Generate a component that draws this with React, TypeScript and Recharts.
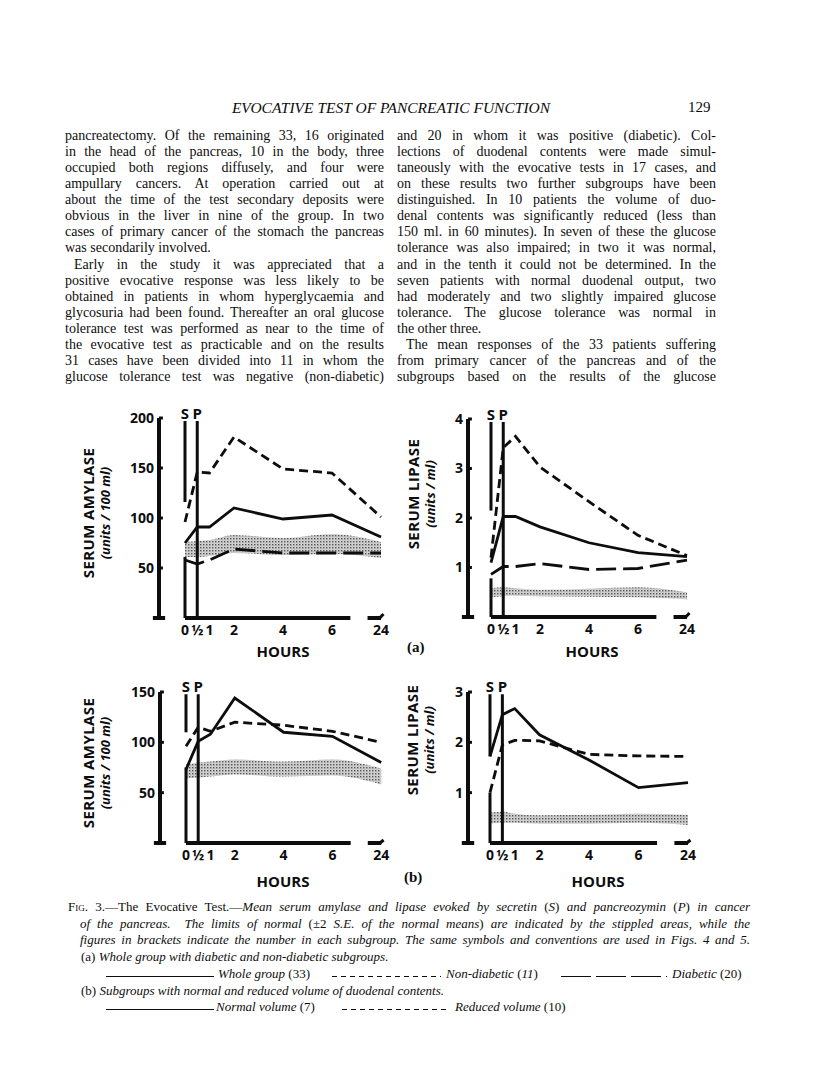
import React from "react";
import { Area, ComposedChart, Line, ReferenceLine, XAxis, YAxis } from "recharts";

// time points (hours); 24 h sits after a break in the axis
const HOURS = [0, 0.5, 1, 2, 4, 6, 24];
const HOUR_TICKS = ["0", "½", "1", "2", "4", "6", "24"];

// Fig 3a: whole group, non-diabetic, diabetic
const AMY_A_WHOLE = [75, 91, 91, 110, 99, 103, 81];
const AMY_A_NONDIAB = [96, 146, 145, 181, 149, 145, 101];
const AMY_A_DIAB = [58, 54, 58, 69, 65, 65, 65];
const AMY_A_NORMAL_LO = [61, 61, 62, 65, 63, 64, 60];
const AMY_A_NORMAL_HI = [76, 77, 78, 83, 80, 84, 76];

const LIP_A_WHOLE = [1.1, 2.03, 2.03, 1.82, 1.5, 1.3, 1.22];
const LIP_A_NONDIAB = [1.2, 3.42, 3.65, 3.03, 2.33, 1.65, 1.24];
const LIP_A_DIAB = [0.86, 1.02, 1.02, 1.08, 0.96, 0.98, 1.15];
const LIP_A_NORMAL_LO = [0.4, 0.42, 0.43, 0.42, 0.41, 0.4, 0.36];
const LIP_A_NORMAL_HI = [0.58, 0.6, 0.58, 0.55, 0.57, 0.6, 0.5];

// Fig 3b: normal and reduced duodenal volume
const AMY_B_NORMAL = [73, 101, 108, 144, 110, 106, 80];
const AMY_B_REDUCED = [96, 115, 111, 120, 117, 111, 100];
const AMY_B_NORMAL_LO = [64, 65, 66, 68, 66, 67, 58];
const AMY_B_NORMAL_HI = [78, 80, 81, 83, 81, 83, 74];

const LIP_B_NORMAL = [1.72, 2.55, 2.67, 2.15, 1.65, 1.1, 1.2];
const LIP_B_REDUCED = [1.0, 1.95, 2.04, 2.03, 1.76, 1.73, 1.72];
const LIP_B_NORMAL_LO = [0.38, 0.4, 0.4, 0.38, 0.38, 0.4, 0.36];
const LIP_B_NORMAL_HI = [0.6, 0.62, 0.58, 0.55, 0.56, 0.58, 0.56];

const LEFT_COL = [
  "pancreatectomy.  Of the remaining 33, 16 originated",
  "in the head of the pancreas, 10 in the body, three",
  "occupied both regions diffusely, and four were",
  "ampullary cancers.  At operation carried out at",
  "about the time of the test secondary deposits were",
  "obvious in the liver in nine of the group.  In two",
  "cases of primary cancer of the stomach the pancreas",
  "was secondarily involved.",
  "Early in the study it was appreciated that a",
  "positive evocative response was less likely to be",
  "obtained in patients in whom hyperglycaemia and",
  "glycosuria had been found. Thereafter an oral glucose",
  "tolerance test was performed as near to the time of",
  "the evocative test as practicable and on the results",
  "31 cases have been divided into 11 in whom the",
  "glucose tolerance test was negative (non-diabetic)",
];
const RIGHT_COL = [
  "and 20 in whom it was positive (diabetic).  Col-",
  "lections of duodenal contents were made simul-",
  "taneously with the evocative tests in 17 cases, and",
  "on these results two further subgroups have been",
  "distinguished.  In 10 patients the volume of duo-",
  "denal contents was significantly reduced (less than",
  "150 ml. in 60 minutes).  In seven of these the glucose",
  "tolerance was also impaired;  in two it was normal,",
  "and in the tenth it could not be determined.  In the",
  "seven patients with normal duodenal output, two",
  "had moderately and two slightly impaired glucose",
  "tolerance.  The glucose tolerance was normal in",
  "the other three.",
  "The mean responses of the 33 patients suffering",
  "from primary cancer of the pancreas and of the",
  "subgroups based on the results of the glucose",
];
const LEFT_ENDS = [7];
const LEFT_INDENTS = [8];
const RIGHT_ENDS = [12];
const RIGHT_INDENTS = [13];

const SERIF = "'Liberation Serif', 'Times New Roman', serif";
const SANS = "'Open Sans', 'Liberation Sans', sans-serif";
const INK = "#0d0d0d";

const SOLID = undefined;
const SHORT_DASH = "9 5";
const LONG_DASH = "20 7";

// put 24 h right after the axis break
const hourPos = (h: number) => (h <= 6 ? h : 8);
const TICK_POS = HOURS.map(hourPos);

type Series = { key: string; values: number[]; dash?: string };

type PanelProps = {
  id: string;
  axisX: number;
  zeroX: number;
  zeroY: number;
  topY: number;
  pxPerHour: number;
  yMax: number;
  yTicks: number[];
  series: Series[];
  bandLo: number[];
  bandHi: number[];
  sUpper: number;
  sLower: number;
};

function Panel(p: PanelProps) {
  const xMin = -(p.zeroX - p.axisX) / p.pxPerHour;
  const xMax = 8.45;
  const top = 30;
  const right = 6;
  const xAxisH = 28;
  const yAxisW = 46;
  const plotW = (xMax - xMin) * p.pxPerHour;
  const plotH = p.zeroY - p.topY;
  const width = yAxisW + plotW + right;
  const height = top + plotH + xAxisH;

  const rows = HOURS.map((h, i) => {
    const row: Record<string, any> = { x: hourPos(h), band: [p.bandLo[i], p.bandHi[i]] };
    p.series.forEach((s) => {
      row[s.key] = s.values[i];
    });
    return row;
  });

  const seg = (x1: number, y1: number, x2: number, y2: number) => [
    { x: x1, y: y1 },
    { x: x2, y: y2 },
  ];
  const letter = (value: string) => ({
    value,
    position: "top" as const,
    offset: 2,
    fill: INK,
    fontSize: 15,
    fontWeight: 700,
    fontFamily: SANS,
  });
  const tickStyle = { fill: INK, fontSize: 14, fontWeight: 700, fontFamily: SANS };

  return (
    <div style={{ position: "absolute", left: p.axisX - yAxisW, top: p.topY - top }}>
      <ComposedChart width={width} height={height} data={rows} margin={{ top, right, bottom: 0, left: 0 }}>
        <defs>
          <pattern id={p.id} width="3" height="3" patternUnits="userSpaceOnUse">
            <rect width="3" height="3" fill="#d2d2d2" />
            <rect x="0" y="0" width="1.4" height="1.4" fill="#555" />
            <rect x="1.5" y="1.5" width="0.8" height="0.8" fill="#999" />
          </pattern>
        </defs>
        <XAxis
          type="number"
          dataKey="x"
          domain={[xMin, xMax]}
          allowDataOverflow
          ticks={TICK_POS}
          interval={0}
          tickFormatter={(v: number) => HOUR_TICKS[TICK_POS.indexOf(v)] ?? ""}
          axisLine={false}
          tickLine={false}
          tickSize={5}
          height={xAxisH}
          tick={tickStyle}
        />
        <YAxis
          type="number"
          domain={[0, p.yMax]}
          ticks={p.yTicks}
          interval={0}
          axisLine={{ stroke: INK, strokeWidth: 4 }}
          tickLine={false}
          tickSize={2}
          tickMargin={3}
          width={yAxisW}
          tick={tickStyle}
        />
        <Area
          dataKey="band"
          type="monotone"
          fill={`url(#${p.id})`}
          fillOpacity={1}
          stroke="none"
          isAnimationActive={false}
        />
        {p.series.map((s) => (
          <Line
            key={s.key}
            dataKey={s.key}
            type="linear"
            stroke={INK}
            strokeWidth={2.8}
            strokeDasharray={s.dash}
            dot={false}
            isAnimationActive={false}
          />
        ))}
        <ReferenceLine segment={seg(0, p.yMax * 0.985, 0, p.sUpper)} stroke={INK} strokeWidth={3} label={letter("S")} />
        <ReferenceLine segment={seg(0, 0, 0, p.sLower)} stroke={INK} strokeWidth={3} />
        <ReferenceLine segment={seg(0.5, 0, 0.5, p.yMax * 0.985)} stroke={INK} strokeWidth={3} label={letter("P")} />
        <ReferenceLine segment={seg(0, 0, 6.75, 0)} stroke={INK} strokeWidth={4} />
        <ReferenceLine segment={seg(7.45, 0, 8, 0)} stroke={INK} strokeWidth={4} />
        <ReferenceLine segment={seg(7.95, 0, 8.1, p.yMax * 0.02)} stroke={INK} strokeWidth={3} />
        <ReferenceLine segment={seg(xMin - 0.25, 0, xMin + 0.25, 0)} stroke={INK} strokeWidth={4} ifOverflow="visible" />
        {p.yTicks.map((t) => (
          <ReferenceLine key={t} segment={seg(xMin, t, xMin + 0.16, t)} stroke={INK} strokeWidth={3} />
        ))}
      </ComposedChart>
    </div>
  );
}

function AxisTitle({ x, y, title, unit }: { x: number; y: number; title: string; unit: string }) {
  const rot = (cx: number, style: React.CSSProperties, text: string) => (
    <div
      style={{
        position: "absolute",
        left: cx,
        top: y,
        transform: "translate(-50%, -50%) rotate(-90deg)",
        whiteSpace: "nowrap",
        fontFamily: SANS,
        fontWeight: 700,
        color: INK,
        ...style,
      }}
    >
      {text}
    </div>
  );
  return (
    <>
      {rot(x, { fontSize: 15, letterSpacing: 0.4 }, title)}
      {rot(x + 17, { fontSize: 13, fontStyle: "italic" }, unit)}
    </>
  );
}

function Abs({ x, y, children, style }: { x: number; y: number; children: React.ReactNode; style?: React.CSSProperties }) {
  return (
    <div style={{ position: "absolute", left: x, top: y, whiteSpace: "nowrap", color: INK, ...style }}>{children}</div>
  );
}

function Column({ x, lines, ends, indents }: { x: number; lines: string[]; ends: number[]; indents: number[] }) {
  return (
    <div style={{ position: "absolute", left: x, top: 128, width: 319, fontFamily: SERIF, fontSize: 14, color: INK }}>
      {lines.map((l, i) => (
        <div
          key={i}
          style={{
            height: 16.07,
            lineHeight: "16px",
            whiteSpace: "nowrap",
            textAlign: "justify",
            textAlignLast: ends.includes(i) ? "left" : "justify",
            paddingLeft: indents.includes(i) ? 9 : 0,
          }}
        >
          {l}
        </div>
      ))}
    </div>
  );
}

function Key({ x, y, w, dash }: { x: number; y: number; w: number; dash?: string }) {
  return (
    <svg style={{ position: "absolute", left: x, top: y }} width={w} height={3}>
      <line x1={0} y1={1.5} x2={w} y2={1.5} stroke={INK} strokeWidth={1} strokeDasharray={dash} />
    </svg>
  );
}

const CAP_Y = 899;
const CAP_STEP = 16.7;

function CapLine({ i, x, w, justify, children }: { i: number; x: number; w?: number; justify?: boolean; children: React.ReactNode }) {
  return (
    <div
      style={{
        position: "absolute",
        left: x,
        top: CAP_Y + i * CAP_STEP,
        width: w,
        lineHeight: "16px",
        whiteSpace: "nowrap",
        fontFamily: SERIF,
        fontSize: 13,
        color: INK,
        textAlign: "justify",
        textAlignLast: justify ? "justify" : "left",
      }}
    >
      {children}
    </div>
  );
}

export default function App() {
  return (
    <div style={{ position: "absolute", left: 0, top: 0, width: 816, height: 1075, background: "#fff" }}>
      <Abs x={191} y={99} style={{ width: 400, textAlign: "center", fontFamily: SERIF, fontStyle: "italic", fontSize: 15.5 }}>
        EVOCATIVE TEST OF PANCREATIC FUNCTION
      </Abs>
      <Abs x={688} y={99} style={{ fontFamily: SERIF, fontSize: 15 }}>
        129
      </Abs>

      <Column x={65} lines={LEFT_COL} ends={LEFT_ENDS} indents={LEFT_INDENTS} />
      <Column x={397} lines={RIGHT_COL} ends={RIGHT_ENDS} indents={RIGHT_INDENTS} />

      <Panel
        id="stipple-a1"
        axisX={159}
        zeroX={185}
        zeroY={618}
        topY={418}
        pxPerHour={24.5}
        yMax={200}
        yTicks={[50, 100, 150, 200]}
        series={[
          { key: "whole", values: AMY_A_WHOLE, dash: SOLID },
          { key: "nondiab", values: AMY_A_NONDIAB, dash: SHORT_DASH },
          { key: "diab", values: AMY_A_DIAB, dash: LONG_DASH },
        ]}
        bandLo={AMY_A_NORMAL_LO}
        bandHi={AMY_A_NORMAL_HI}
        sUpper={116}
        sLower={61}
      />
      <Panel
        id="stipple-a2"
        axisX={468}
        zeroX={491}
        zeroY={617}
        topY={419}
        pxPerHour={24.5}
        yMax={4}
        yTicks={[1, 2, 3, 4]}
        series={[
          { key: "whole", values: LIP_A_WHOLE, dash: SOLID },
          { key: "nondiab", values: LIP_A_NONDIAB, dash: SHORT_DASH },
          { key: "diab", values: LIP_A_DIAB, dash: LONG_DASH },
        ]}
        bandLo={LIP_A_NORMAL_LO}
        bandHi={LIP_A_NORMAL_HI}
        sUpper={2.15}
        sLower={0.78}
      />
      <Panel
        id="stipple-b1"
        axisX={160}
        zeroX={186}
        zeroY={843}
        topY={692}
        pxPerHour={24.4}
        yMax={150}
        yTicks={[50, 100, 150]}
        series={[
          { key: "normal", values: AMY_B_NORMAL, dash: SOLID },
          { key: "reduced", values: AMY_B_REDUCED, dash: SHORT_DASH },
        ]}
        bandLo={AMY_B_NORMAL_LO}
        bandHi={AMY_B_NORMAL_HI}
        sUpper={110}
        sLower={75}
      />
      <Panel
        id="stipple-b2"
        axisX={468}
        zeroX={490}
        zeroY={843}
        topY={692}
        pxPerHour={24.75}
        yMax={3}
        yTicks={[1, 2, 3]}
        series={[
          { key: "normal", values: LIP_B_NORMAL, dash: SOLID },
          { key: "reduced", values: LIP_B_REDUCED, dash: SHORT_DASH },
        ]}
        bandLo={LIP_B_NORMAL_LO}
        bandHi={LIP_B_NORMAL_HI}
        sUpper={1.72}
        sLower={1.0}
      />

      <AxisTitle x={88} y={513} title="SERUM  AMYLASE" unit="(units / 100 ml)" />
      <AxisTitle x={413} y={494} title="SERUM  LIPASE" unit="(units / ml)" />
      <AxisTitle x={88} y={763} title="SERUM  AMYLASE" unit="(units / 100 ml)" />
      <AxisTitle x={412} y={740} title="SERUM  LIPASE" unit="(units / ml)" />

      <Abs x={253} y={641} style={{ width: 60, textAlign: "center", fontFamily: SANS, fontWeight: 700, fontSize: 15 }}>HOURS</Abs>
      <Abs x={562} y={641} style={{ width: 60, textAlign: "center", fontFamily: SANS, fontWeight: 700, fontSize: 15 }}>HOURS</Abs>
      <Abs x={253} y={871} style={{ width: 60, textAlign: "center", fontFamily: SANS, fontWeight: 700, fontSize: 15 }}>HOURS</Abs>
      <Abs x={568} y={871} style={{ width: 60, textAlign: "center", fontFamily: SANS, fontWeight: 700, fontSize: 15 }}>HOURS</Abs>
      <Abs x={407} y={639} style={{ fontFamily: SERIF, fontWeight: 700, fontSize: 15 }}>(a)</Abs>
      <Abs x={404} y={869} style={{ fontFamily: SERIF, fontWeight: 700, fontSize: 15 }}>(b)</Abs>

      <CapLine i={0} x={68} w={682} justify>
        <span style={{ fontVariant: "small-caps" }}>Fig.</span> 3.—The Evocative Test.—
        <i>Mean serum amylase and lipase evoked by secretin</i> (<i>S</i>) <i>and pancreozymin</i> (<i>P</i>) <i>in cancer</i>
      </CapLine>
      <CapLine i={1} x={80} w={670} justify>
        <i>of the pancreas.&nbsp; The limits of normal</i> (±2 <i>S.E. of the normal means</i>) <i>are indicated by the stippled areas, while the</i>
      </CapLine>
      <CapLine i={2} x={80} w={670} justify>
        <i>figures in brackets indicate the number in each subgroup. The same symbols and conventions are used in Figs. 4 and 5.</i>
      </CapLine>
      <CapLine i={3} x={81}>
        (a) <i>Whole group with diabetic and non-diabetic subgroups.</i>
      </CapLine>
      <Key x={106} y={CAP_Y + 4 * CAP_STEP + 9} w={108} />
      <CapLine i={4} x={218}><i>Whole group</i> (33)</CapLine>
      <Key x={332} y={CAP_Y + 4 * CAP_STEP + 9} w={109} dash="5 4" />
      <CapLine i={4} x={446}><i>Non-diabetic</i> (<i>11</i>)</CapLine>
      <Key x={561} y={CAP_Y + 4 * CAP_STEP + 9} w={106} dash="30 5" />
      <CapLine i={4} x={672}><i>Diabetic</i> (20)</CapLine>
      <CapLine i={5} x={81}>
        (b) <i>Subgroups with normal and reduced volume of duodenal contents.</i>
      </CapLine>
      <Key x={106} y={CAP_Y + 6 * CAP_STEP + 9} w={108} />
      <CapLine i={6} x={216}><i>Normal volume</i> (7)</CapLine>
      <Key x={342} y={CAP_Y + 6 * CAP_STEP + 9} w={108} dash="5 4" />
      <CapLine i={6} x={455}><i>Reduced volume</i> (10)</CapLine>
    </div>
  );
}
